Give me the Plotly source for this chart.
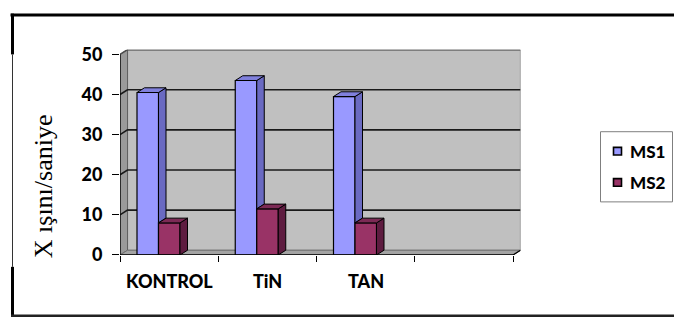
import plotly.graph_objects as go

# ---- data -------------------------------------------------------------
categories = ["KONTROL", "TiN", "TAN"]
n_slots = 4                      # the category axis has one empty slot at the end
ms1 = [40.5, 43.5, 39.5]
ms2 = [8.0, 11.5, 8.0]
series_names = ["MS1", "MS2"]
y_ticks = [0, 10, 20, 30, 40, 50]
y_max = 50

# ---- geometry (pixels of the 674x329 page) ------------------------------
W, H = 674, 329
FX0, FX1 = 120, 513            # front edge of the floor
FY0, FY50 = 261.5, 50          # front y of value 0 and value 50
DX_PX, DY_PX = 7.5, 5          # depth offset of the 3D box

ux = (FX1 - FX0) / n_slots
uy = (FY0 - FY50) / y_max
dx = DX_PX / ux
dy = DY_PX / uy

x_lo, x_hi = -0.5, n_slots - 0.5
bar_w = 21.5 / ux
off1 = (137 - FX0) / ux - 0.5
off2 = off1 + bar_w

C1, C1_SIDE, C1_TOP = "#9999FF", "#6A6AC2", "#8080DC"
C2, C2_SIDE, C2_TOP = "#993366", "#5E1C40", "#7C2A55"


def px(x):
    return x / W


def py(y):
    return 1 - y / H


def poly(pts):
    return "M " + " L ".join(f"{a},{b}" for a, b in pts) + " Z"


fig = go.Figure()

# front faces of the columns
fig.add_trace(go.Bar(x=list(range(len(categories))), y=ms1, name=series_names[0],
                     offset=off1, width=bar_w,
                     marker=dict(color=C1, line=dict(color="black", width=1.2))))
fig.add_trace(go.Bar(x=list(range(len(categories))), y=ms2, name=series_names[1],
                     offset=off2, width=bar_w,
                     marker=dict(color=C2, line=dict(color="black", width=1.2))))


def face_trace(polys, color):
    xs, ys = [], []
    for p in polys:
        for a, b in p + [p[0]]:
            xs.append(a)
            ys.append(b)
        xs.append(None)
        ys.append(None)
    return go.Scatter(x=xs, y=ys, mode="lines", fill="toself", fillcolor=color,
                      line=dict(color="black", width=1), showlegend=False,
                      hoverinfo="skip")


# side and top faces of each column
s1, t1, s2, t2 = [], [], [], []
for i, (v1, v2) in enumerate(zip(ms1, ms2)):
    a0 = i + off1
    a1 = a0 + bar_w
    a2 = a1 + bar_w
    base = min(v2, v1)
    s1.append([(a1, base), (a1, v1), (a1 + dx, v1 + dy), (a1 + dx, base + dy)])
    t1.append([(a0, v1), (a1, v1), (a1 + dx, v1 + dy), (a0 + dx, v1 + dy)])
    s2.append([(a2, 0), (a2, v2), (a2 + dx, v2 + dy), (a2 + dx, dy)])
    t2.append([(a1, v2), (a2, v2), (a2 + dx, v2 + dy), (a1 + dx, v2 + dy)])

fig.add_trace(face_trace(s1, C1_SIDE))
fig.add_trace(face_trace(t1, C1_TOP))
fig.add_trace(face_trace(s2, C2_SIDE))
fig.add_trace(face_trace(t2, C2_TOP))

# ---- 3D box: back wall, side wall, floor, gridlines --------------------
shapes = []
shapes.append(dict(type="path", xref="x", yref="y", layer="below",
                   path=poly([(x_lo + dx, dy), (x_hi + dx, dy),
                              (x_hi + dx, y_max + dy), (x_lo + dx, y_max + dy)]),
                   fillcolor="#C0C0C0", line=dict(color="#7F7F7F", width=1.2)))
shapes.append(dict(type="path", xref="x", yref="y", layer="below",
                   path=poly([(x_lo, 0), (x_lo, y_max),
                              (x_lo + dx, y_max + dy), (x_lo + dx, dy)]),
                   fillcolor="#9A9A9A", line=dict(color="#606060", width=1)))
shapes.append(dict(type="path", xref="x", yref="y", layer="below",
                   path=poly([(x_lo, 0), (x_hi, 0), (x_hi + dx, dy), (x_lo + dx, dy)]),
                   fillcolor="#A3A3A3", line=dict(color="#707070", width=1)))
for v in y_ticks[1:]:
    col = "#1A1A1A" if v < y_max else "#4D4D4D"
    shapes.append(dict(type="path", xref="x", yref="y", layer="below",
                       path=f"M {x_lo},{v} L {x_lo + dx},{v + dy} L {x_hi + dx},{v + dy}",
                       line=dict(color=col, width=1.6)))
# front edges: value axis and floor edge
shapes.append(dict(type="line", xref="x", yref="y", x0=x_lo, x1=x_lo, y0=0, y1=y_max,
                   line=dict(color="black", width=1.3)))
shapes.append(dict(type="path", xref="x", yref="y",
                   path=f"M {x_lo},0 L {x_hi},0 L {x_hi + dx},{dy}",
                   line=dict(color="black", width=1.3)))

# ---- outer frame of the chart area ------------------------------------
frame = dict(xref="paper", yref="paper", type="line")
shapes.append(dict(frame, x0=px(10.5), x1=1, y0=py(8.5), y1=py(8.5),
                   line=dict(color="black", width=3)))
shapes.append(dict(frame, x0=px(12.5), x1=px(12.5), y0=py(7), y1=py(50),
                   line=dict(color="black", width=3)))
shapes.append(dict(frame, x0=px(12.5), x1=px(12.5), y0=py(50), y1=py(274),
                   line=dict(color="#333333", width=1)))
shapes.append(dict(frame, x0=px(12.5), x1=px(12.5), y0=py(274), y1=py(326),
                   line=dict(color="black", width=3)))
shapes.append(dict(frame, x0=px(11), x1=1, y0=py(325.5), y1=py(325.5),
                   line=dict(color="#222222", width=2.5)))

# ---- legend: box, swatches and names ------------------------------------
bold = dict(family="Lato", size=18, color="black", weight=900)
legend_font = dict(family="Lato", size=17, color="black", weight=900)
annotations = []
shapes.append(dict(type="rect", xref="paper", yref="paper",
                   x0=px(600.5), x1=px(672.5), y0=py(131.5), y1=py(205.5),
                   line=dict(color="#7F7F7F", width=1), fillcolor="white"))
for name, color, yc in zip(series_names, [C1, C2], [152, 185]):
    shapes.append(dict(type="rect", xref="paper", yref="paper",
                       x0=px(613.5), x1=px(621.5), y0=py(yc - 4), y1=py(yc + 4),
                       fillcolor=color, line=dict(color="black", width=1.6)))
    annotations.append(dict(x=px(628), y=py(yc), xref="paper", yref="paper",
                            text=name, showarrow=False, font=legend_font,
                            xanchor="left", yanchor="middle"))

# ---- category labels and value-axis title -------------------------------
for i, c in enumerate(categories):
    annotations.append(dict(x=i, y=py(289), xref="x", yref="paper", text=c,
                            showarrow=False, font=bold, xanchor="center",
                            yanchor="middle"))
annotations.append(dict(x=px(43), y=py(189), xref="paper", yref="paper",
                        text="X ışını/saniye", textangle=-90, showarrow=False,
                        font=dict(family="Liberation Serif", size=26, color="black"),
                        xanchor="center", yanchor="middle"))

fig.update_layout(
    width=W, height=H,
    margin=dict(l=0, r=0, t=0, b=0),
    paper_bgcolor="white", plot_bgcolor="rgba(0,0,0,0)",
    shapes=shapes, annotations=annotations,
    showlegend=False,
    xaxis=dict(range=[x_lo, x_hi + dx], domain=[px(FX0), px(FX1 + DX_PX)],
               showgrid=False, zeroline=False, showline=False,
               tickmode="array", tickvals=[x_lo + k for k in range(n_slots + 1)],
               ticktext=[""] * (n_slots + 1), ticks="outside", ticklen=6,
               tickcolor="black", tickwidth=1, fixedrange=True),
    yaxis=dict(range=[0, y_max + dy], domain=[py(FY0), py(FY50 - DY_PX)],
               showgrid=False, zeroline=False, showline=False,
               tickmode="array", tickvals=y_ticks, ticks="outside", ticklen=7,
               tickcolor="black", tickwidth=1, tickfont=bold,
               ticklabelstandoff=6, fixedrange=True),
)

fig.write_html("out.html")
